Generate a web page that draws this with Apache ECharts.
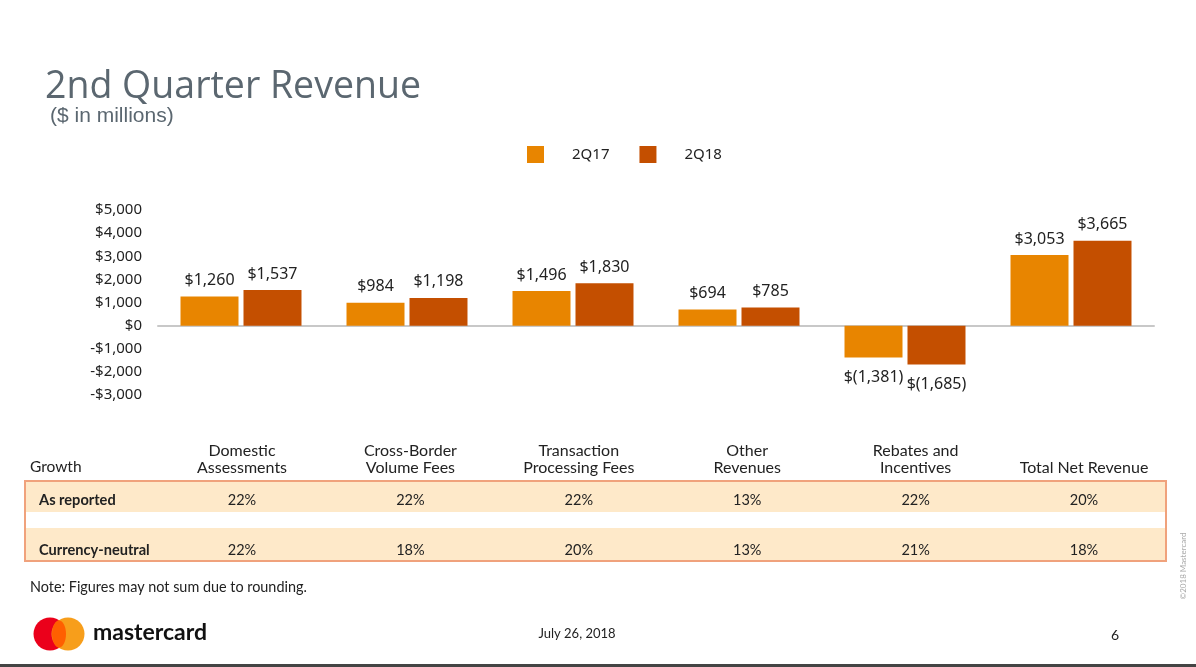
<!DOCTYPE html>
<html><head><meta charset="utf-8">
<script src="https://cdn.jsdelivr.net/npm/echarts@6/dist/echarts.min.js"></script>
<style>html,body{margin:0;padding:0;background:#fff}#c{width:1196px;height:667px}</style>
</head><body><div id="c"></div>
<script>
const categories = ['Domestic\nAssessments','Cross-Border\nVolume Fees','Transaction\nProcessing Fees','Other\nRevenues','Rebates and\nIncentives','Total Net Revenue'];
const seriesNames = ['2Q17','2Q18'];
const values2Q17 = [1260, 984, 1496, 694, -1381, 3053];
const values2Q18 = [1537, 1198, 1830, 785, -1685, 3665];
const growthAsReported = ['22%','22%','22%','13%','22%','20%'];
const growthCurrencyNeutral = ['22%','18%','20%','13%','21%','18%'];
const rowLabels = ['As reported','Currency-neutral'];
const yMin = -3000, yMax = 5000, yStep = 1000;

const C17 = '#e88500', C18 = '#c44f00';
const fmtNum = v => Math.abs(v).toLocaleString('en-US');
const fmtLabel = v => v < 0 ? '$(' + fmtNum(v) + ')' : '$' + fmtNum(v);
const fmtTick = v => (v < 0 ? '-$' : '$') + fmtNum(v);
const toData = arr => arr.map(v => v < 0 ? {value: v, label: {position: 'bottom', distance: 12}} : v);

const chart = echarts.init(document.getElementById('c'));
const labelStyle = {show: true, position: 'top', distance: 8, formatter: p => fmtLabel(p.value), color: '#222', fontSize: 16, fontFamily: 'Noto Sans'};
chart.setOption({
  animation: false,
  backgroundColor: '#fff',
  legend: {
    left: 527, top: 146, padding: 0, itemWidth: 17, itemHeight: 17, itemGap: 30, icon: 'rect',
    textStyle: {fontSize: 15, color: '#222', fontFamily: 'Noto Sans', padding: [0,0,0,23]},
    data: seriesNames
  },
  grid: {left: 158, right: 42, top: 210, bottom: 272},
  xAxis: {
    type: 'category', data: categories,
    axisLine: {lineStyle: {color: '#c8c8c8', width: 2}},
    axisTick: {show: false}, axisLabel: {show: false}, splitLine: {show: false}
  },
  yAxis: {
    type: 'value', min: yMin, max: yMax, interval: yStep,
    axisLine: {show: false}, axisTick: {show: false}, splitLine: {show: false},
    axisLabel: {formatter: fmtTick, color: '#222', fontSize: 15, fontFamily: 'Noto Sans', margin: 16}
  },
  series: [
    {name: seriesNames[0], type: 'bar', data: toData(values2Q17), barWidth: 58, barGap: '8.6%', itemStyle: {color: C17}, label: labelStyle},
    {name: seriesNames[1], type: 'bar', data: toData(values2Q18), barWidth: 58, barGap: '8.6%', itemStyle: {color: C18}, label: labelStyle}
  ]
});

const TF = 'Lato';
const g = [];
const txt = (text, x, y, o) => ({type: 'text', style: Object.assign({text, x, y, fill: '#222', fontSize: 15, fontFamily: TF, align: 'left', verticalAlign: 'middle', textAlign: 'left', textVerticalAlign: 'middle'}, o || {})});
// titles
g.push(txt('2nd Quarter Revenue', 45, 87, {fontSize: 37.5, fontFamily: 'Open Sans', fill: '#5b6770'}));
g.push(txt('($ in millions)', 50, 116, {fontSize: 21, fontFamily: 'Liberation Sans', fill: '#5b6770'}));
// table
const tableLeft = 25, tableRight = 1166, colFirst = 242, colStep = 168.4;
g.push({type: 'rect', shape: {x: tableLeft + 1, y: 482, width: tableRight - tableLeft - 2, height: 30}, style: {fill: '#fee9c9'}});
g.push({type: 'rect', shape: {x: tableLeft + 1, y: 528, width: tableRight - tableLeft - 2, height: 32}, style: {fill: '#fee9c9'}});
g.push({type: 'rect', shape: {x: tableLeft, y: 481, width: tableRight - tableLeft, height: 80}, style: {fill: 'none', stroke: '#f0a27c', lineWidth: 2}});
g.push(txt('Growth', 30, 467, {fontSize: 15.5}));
g.push(txt(rowLabels[0], 39, 500, {fontWeight: 'bold', fontSize: 14.6}));
g.push(txt(rowLabels[1], 39, 550, {fontWeight: 'bold', fontSize: 14.6}));
categories.forEach((c, i) => {
  const x = colFirst + i * colStep;
  g.push(txt(c, x, 476, {align: 'center', textAlign: 'center', verticalAlign: 'bottom', textVerticalAlign: 'bottom', lineHeight: 17, fontSize: 16}));
  g.push(txt(growthAsReported[i], x, 500, {align: 'center', textAlign: 'center', fontSize: 14.5}));
  g.push(txt(growthCurrencyNeutral[i], x, 550, {align: 'center', textAlign: 'center', fontSize: 14.5}));
});
g.push(txt('Note: Figures may not sum due to rounding.', 30, 587, {fontSize: 14.4}));
// footer
g.push({type: 'circle', shape: {cx: 50, cy: 634, r: 16.5}, style: {fill: '#eb001b'}});
g.push({type: 'circle', shape: {cx: 68, cy: 634, r: 16.5}, style: {fill: '#f79e1b'}});
g.push({type: 'ellipse', shape: {cx: 59, cy: 634, rx: 7, ry: 13.5}, style: {fill: '#ff5f00'}});
g.push(txt('mastercard', 93, 633, {fontSize: 23, fontFamily: 'Lato', fontWeight: 'bold', fill: '#111'}));
g.push(txt('July 26, 2018', 577, 634, {fontSize: 13, align: 'center', textAlign: 'center'}));
g.push(txt('6', 1115, 635, {fontSize: 14, align: 'center', textAlign: 'center'}));
g.push({type: 'rect', shape: {x: 0, y: 664, width: 1196, height: 3}, style: {fill: '#444'}});
g.push({type: 'text', x: 1183, y: 566, rotation: Math.PI / 2, style: {text: '\u00A92018 Mastercard', x: 0, y: 0, fontSize: 8, fontFamily: 'Lato', fill: '#aaa', align: 'center', verticalAlign: 'middle', textAlign: 'center', textVerticalAlign: 'middle'}});
chart.setOption({graphic: {elements: g}});
</script></body></html>
